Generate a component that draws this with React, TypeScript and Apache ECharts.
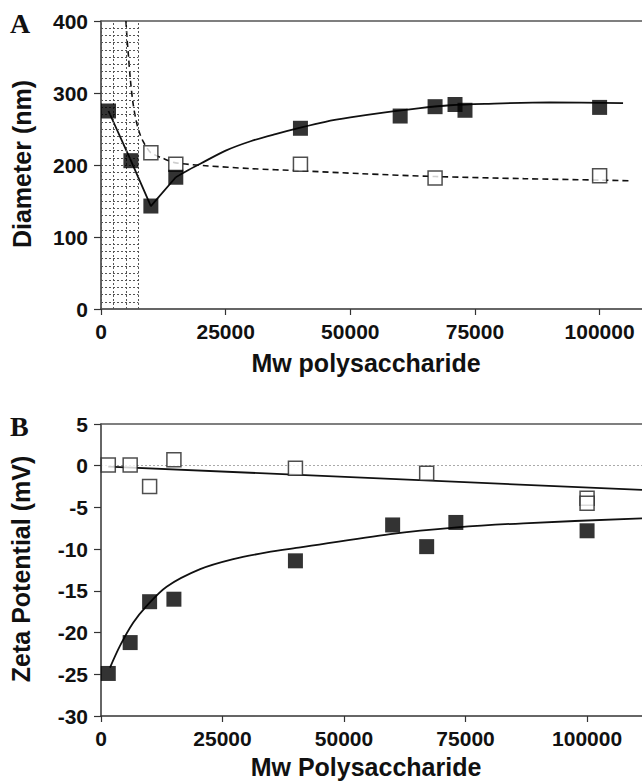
import React, { useEffect, useRef } from "react";
import * as echarts from "echarts";

// ---------- Panel A : Diameter ----------
const diamFilledX = [1500, 6000, 10000, 15000, 40000, 60000, 67000, 71000, 73000, 100000];
const diamFilledY = [275, 206, 143, 183, 251, 268, 281, 284, 276, 280];
const diamOpenX = [10000, 15000, 40000, 67000, 100000];
const diamOpenY = [217, 201, 201, 182, 185];
// solid fit: straight part then curved part
const diamSolidLinX = [1500, 6000, 10000, 15000];
const diamSolidLinY = [275, 206, 143, 183];
const diamSolidCurveX = [15000, 17000, 20000, 25000, 30000, 35000, 40000, 45000, 50000, 57000, 64000, 70000, 77000, 90000, 104700];
const diamSolidCurveY = [183, 191, 202, 220, 233, 243, 252, 260, 266, 273, 279, 283, 285, 287, 286];
// dashed fit
const diamDashX = [5000, 5200, 5500, 5900, 6400, 7000, 7700, 8500, 9300, 10000, 12500, 15000, 21000, 30000, 40000, 52000, 67000, 85000, 100000, 106000];
const diamDashY = [400, 378, 352, 318, 287, 263, 245, 232, 223, 217, 209, 203, 199, 195, 192, 188, 184, 181, 179, 178];
// hatched low-Mw region
const hatchCols = [0, 2500, 5000, 7500];
const hatchRowStep = 10;
const diamTicks = { min: 0, max: 400, interval: 100 };
const mwTicksA = { min: 0, max: 108500, interval: 25000 };

// ---------- Panel B : Zeta potential ----------
const zetaFilledX = [1500, 6000, 10000, 15000, 40000, 60000, 67000, 73000, 100000];
const zetaFilledY = [-24.9, -21.2, -16.3, -16.0, -11.4, -7.1, -9.7, -6.8, -7.8];
const zetaOpenX = [1500, 6000, 10000, 15000, 40000, 67000, 100000, 100000];
const zetaOpenY = [0.1, 0.1, -2.5, 0.7, -0.3, -0.9, -3.9, -4.5];
const zetaFilledFitX = [1850, 3900, 6650, 9400, 13500, 20400, 27200, 34100, 41000, 59500, 73200, 86900, 111300];
const zetaFilledFitY = [-24.2, -21.6, -18.8, -16.8, -14.5, -12.4, -11.2, -10.4, -9.8, -8.2, -7.4, -6.9, -6.3];
const zetaOpenFitX = [1500, 111300];
const zetaOpenFitY = [-0.1, -2.9];
const zetaTicks = { min: -30, max: 5, interval: 5 };
const mwTicksB = { min: 0, max: 111300, interval: 25000 };

const zip = (xs: number[], ys: number[]) => xs.map((x, i) => [x, ys[i]]);

const FONT = "'Liberation Sans', Arial, Helvetica, sans-serif";
const SERIF = "'Liberation Serif', 'Times New Roman', serif";
const AXIS_COLOR = "#333";

export default function App() {
  const ref = useRef<HTMLDivElement>(null);
  useEffect(() => {
    if (!ref.current) return;
    const chart = echarts.init(ref.current, undefined, { renderer: "svg" });

    const hatchLines: any[] = [];
    hatchCols.forEach((c) => hatchLines.push([{ coord: [c, diamTicks.min] }, { coord: [c, diamTicks.max] }]));
    for (let y = hatchRowStep; y < diamTicks.max; y += hatchRowStep) {
      hatchLines.push([{ coord: [hatchCols[0], y] }, { coord: [hatchCols[hatchCols.length - 1], y] }]);
    }

    const xAxisBase = (gi: number, t: { min: number; max: number; interval: number }) => ({
      type: "value",
      gridIndex: gi,
      min: t.min,
      max: t.max,
      interval: t.interval,
      splitLine: { show: false },
      axisLine: { show: true, onZero: false, lineStyle: { color: AXIS_COLOR, width: 1.5 } },
      axisTick: { show: true, inside: false, length: 6, lineStyle: { color: AXIS_COLOR, width: 1.2 } },
      axisLabel: {
        margin: 12,
        fontSize: 21,
        fontWeight: "bold",
        fontFamily: FONT,
        color: "#111",
        showMaxLabel: false,
        formatter: (v: number) => (v % t.interval === 0 ? String(v) : ""),
      },
    });
    const topAxis = (gi: number, t: { min: number; max: number }) => ({
      type: "value",
      gridIndex: gi,
      position: "top",
      min: t.min,
      max: t.max,
      splitLine: { show: false },
      axisLine: { show: true, onZero: false, lineStyle: { color: "#555", width: 1.5 } },
      axisTick: { show: false },
      axisLabel: { show: false },
    });
    const yAxisBase = (gi: number, t: { min: number; max: number; interval: number }) => ({
      type: "value",
      gridIndex: gi,
      min: t.min,
      max: t.max,
      interval: t.interval,
      splitLine: { show: false },
      axisLine: { show: true, onZero: false, lineStyle: { color: AXIS_COLOR, width: 1.5 } },
      axisTick: { show: true, inside: false, length: 7, lineStyle: { color: AXIS_COLOR, width: 1.2 } },
      axisLabel: { margin: 13, fontSize: 21, fontWeight: "bold", fontFamily: FONT, color: "#111" },
    });

    const filledSym = { symbol: "rect", symbolSize: 15, itemStyle: { color: "#000" } };
    const openSym = {
      symbol: "rect",
      symbolSize: 14,
      itemStyle: { color: "#fff", borderColor: "#222", borderWidth: 1.5 },
    };
    const fitLine = (xi: number, yi: number, data: number[][], dashed: boolean, smooth: boolean | number) => ({
      type: "line",
      xAxisIndex: xi,
      yAxisIndex: yi,
      data,
      showSymbol: false,
      symbol: "none",
      smooth,
      lineStyle: { color: "#111", width: dashed ? 1.6 : 1.8, type: dashed ? [6, 4] : "solid" },
      z: 3,
    });

    chart.setOption({
      animation: false,
      backgroundColor: "#fff",
      grid: [
        { left: 101, top: 21, width: 541, height: 288 },
        { left: 101, top: 424, width: 541, height: 292 },
      ],
      xAxis: [xAxisBase(0, mwTicksA), xAxisBase(1, mwTicksB), topAxis(0, mwTicksA), topAxis(1, mwTicksB)],
      yAxis: [yAxisBase(0, diamTicks), yAxisBase(1, zetaTicks)],
      graphic: [
        { type: "text", left: 10, top: 9, style: { text: "A", font: `bold 28px ${SERIF}`, fill: "#111" } },
        { type: "text", left: 10, top: 412, style: { text: "B", font: `bold 28px ${SERIF}`, fill: "#111" } },
        {
          type: "text",
          x: 22,
          y: 164,
          rotation: Math.PI / 2,
          style: { text: "Diameter (nm)", font: `bold 25px ${FONT}`, fill: "#111", align: "center", verticalAlign: "middle" },
        },
        {
          type: "text",
          x: 21,
          y: 569,
          rotation: Math.PI / 2,
          style: { text: "Zeta Potential (mV)", font: `bold 25px ${FONT}`, fill: "#111", align: "center", verticalAlign: "middle" },
        },
        {
          type: "text",
          x: 366,
          y: 363,
          style: { text: "Mw polysaccharide", font: `bold 25px ${FONT}`, fill: "#111", align: "center", verticalAlign: "middle" },
        },
        {
          type: "text",
          x: 366,
          y: 767,
          style: { text: "Mw Polysaccharide", font: `bold 25px ${FONT}`, fill: "#111", align: "center", verticalAlign: "middle" },
        },
      ],
      series: [
        {
          type: "line",
          xAxisIndex: 0,
          yAxisIndex: 0,
          data: [[hatchCols[0], diamTicks.min]],
          showSymbol: false,
          symbol: "none",
          lineStyle: { opacity: 0 },
          z: 1,
          markLine: {
            silent: true,
            symbol: "none",
            label: { show: false },
            lineStyle: { color: "#555", width: 1, type: [2, 2] },
            data: hatchLines,
          },
        },
        fitLine(0, 0, zip(diamSolidLinX, diamSolidLinY), false, false),
        fitLine(0, 0, zip(diamSolidCurveX, diamSolidCurveY), false, 0.3),
        fitLine(0, 0, zip(diamDashX, diamDashY), true, 0.3),
        { type: "scatter", xAxisIndex: 0, yAxisIndex: 0, data: zip(diamOpenX, diamOpenY), ...openSym, z: 5 },
        { type: "scatter", xAxisIndex: 0, yAxisIndex: 0, data: zip(diamFilledX, diamFilledY), ...filledSym, z: 6 },
        {
          ...fitLine(1, 1, zip(zetaOpenFitX, zetaOpenFitY), false, false),
          markLine: {
            silent: true,
            symbol: "none",
            label: { show: false },
            lineStyle: { color: "#aaa", width: 1, type: [2, 2] },
            data: [{ yAxis: 0 }],
          },
        },
        fitLine(1, 1, zip(zetaFilledFitX, zetaFilledFitY), false, 0.3),
        { type: "scatter", xAxisIndex: 1, yAxisIndex: 1, data: zip(zetaOpenX, zetaOpenY), ...openSym, z: 5 },
        { type: "scatter", xAxisIndex: 1, yAxisIndex: 1, data: zip(zetaFilledX, zetaFilledY), ...filledSym, z: 6 },
      ],
    });
    return () => chart.dispose();
  }, []);
  return <div ref={ref} style={{ position: "absolute", left: 0, top: 0, width: 642, height: 783, background: "#fff" }} />;
}
